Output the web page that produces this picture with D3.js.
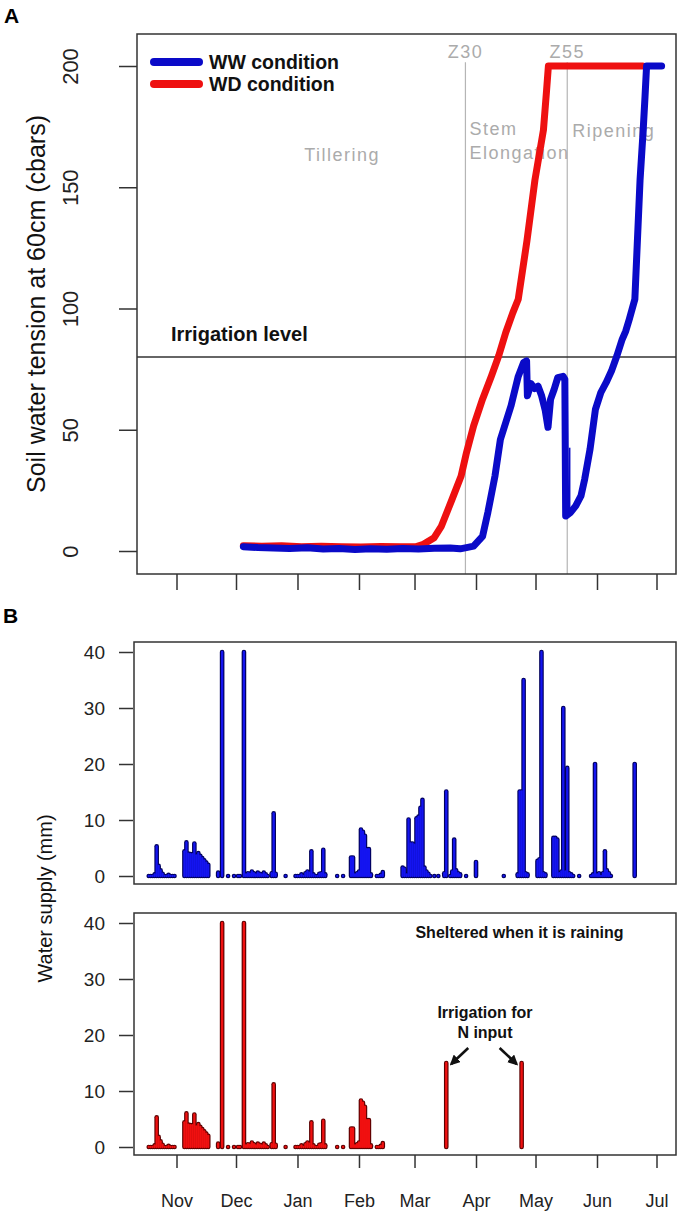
<!DOCTYPE html>
<html>
<head>
<meta charset="utf-8">
<script src="https://cdn.jsdelivr.net/npm/d3@7/dist/d3.min.js"></script>
<style>
  body { margin: 0; background: #fff; }
  text { font-family: "Liberation Sans", Arial, sans-serif; }
</style>
</head>
<body>
<svg id="chart" width="700" height="1220"></svg>
<script>
// ---------------- DATA ----------------
const monthLabels = ["Nov", "Dec", "Jan", "Feb", "Mar", "Apr", "May", "Jun", "Jul"];
const tensionTicks = [0, 50, 100, 150, 200];
const supplyTicks = [0, 10, 20, 30, 40];
const irrigationLevel = 80;

// Soil water tension at 60 cm (cbars); dates as MM-DD[Thh]
const wwTension = [
  ["12-04T17", 1.8], ["12-12", 1.4], ["12-20", 1.2], ["12-28", 1.0], ["01-06", 1.3],
  ["01-14", 0.8], ["01-22", 1.0], ["01-30", 0.6], ["02-07", 0.9], ["02-15", 0.7],
  ["02-23", 1.0], ["03-03", 0.8], ["03-11", 1.1], ["03-19", 1.2], ["03-24", 0.9],
  ["03-27T05", 1.4], ["03-30T19", 2.0], ["04-04T07", 6.0], ["04-07", 16], ["04-10T14", 31],
  ["04-13T07", 46], ["04-16", 53], ["04-18T17", 60], ["04-22T07", 72], ["04-25", 77.7],
  ["04-26T12", 78.4], ["04-26T22", 64], ["04-28T17", 69], ["04-30T12", 67], ["05-02T07", 68],
  ["05-04T02", 64], ["05-05T22", 58], ["05-07T07", 51], ["05-08T14", 62.5], ["05-10T10", 66.7],
  ["05-12T05", 71.5], ["05-14T22", 72], ["05-15T19", 70.8], ["05-16T05", 14.4], ["05-18T12", 15.8],
  ["05-21T07", 18.6], ["05-23T22", 22.7], ["05-25T19", 29.6], ["05-28T12", 42], ["05-31T05", 58.4],
  ["06-02T22", 65.3], ["06-05T14", 69.4], ["06-08T07", 74.2], ["06-11", 80.4], ["06-13T17", 87.3],
  ["06-15T12", 90.7], ["06-17T07", 95.6], ["06-20T02", 103.8], ["06-22T17", 153], ["06-24T07", 173.6],
  ["06-25T05", 187.3], ["06-26", 200], ["07-03T14", 200]
];
const wwGlitch = [["05-18T05", 15.5], ["05-18T05", 42.6]];
const wdTension = [
  ["12-04T17", 2.2], ["12-14", 2.0], ["12-24", 2.2], ["01-03", 1.8], ["01-13", 2.0],
  ["01-23", 1.8], ["02-02", 1.7], ["02-12", 1.9], ["02-22", 1.8], ["03-01T22", 1.8],
  ["03-05T12", 2.75], ["03-10T22", 5.5], ["03-14T14", 10.3], ["03-19T22", 21.3], ["03-24T12", 30.9],
  ["03-27T05", 40.6], ["03-30T19", 51.6], ["04-04T07", 62.6], ["04-08T19", 72.2], ["04-12T10", 80.4],
  ["04-16", 90.1], ["04-19T14", 98.3], ["04-22T07", 103.8], ["04-26T17", 128], ["04-30T17", 153],
  ["05-05", 173.6], ["05-06T14", 190], ["05-07T12", 200], ["06-24", 200]
];

// Water supply (mm): rain received by both treatments before shelter
const sharedSupply = [
  ["10-18", 0], ["10-19", 0], ["10-20", 0], ["10-21", 0.3], ["10-22", 5.3], ["10-23", 1.8],
  ["10-24", 1.0], ["10-25", 0.4], ["10-26", 0], ["10-27", 0], ["10-28", 0.2], ["10-29", 0],
  ["10-30", 0], ["10-31", 0],
  ["11-05", 4.4], ["11-06", 6.0], ["11-07", 4.0], ["11-08", 3.9], ["11-09", 3.9], ["11-10", 5.8],
  ["11-11", 3.7], ["11-12", 4.1], ["11-13", 3.6], ["11-14", 3.2], ["11-15", 2.8], ["11-16", 2.4],
  ["11-17", 2.0],
  ["11-22", 0.6], ["11-24", 40], ["11-27", 0], ["11-30", 0], ["12-02", 0], ["12-03", 0],
  ["12-05", 40], ["12-06", 0.3], ["12-07", 0.5], ["12-08", 0.4], ["12-09", 0.8], ["12-10", 0.5],
  ["12-11", 0.3], ["12-12", 0.6], ["12-13", 0.4], ["12-14", 0.3], ["12-15", 0.6], ["12-16", 0.3],
  ["12-17", 0], ["12-19", 0.5], ["12-20", 11.2], ["12-21", 0.4], ["12-26", 0],
  ["12-31", 0], ["01-01", 0], ["01-02", 0], ["01-03", 0.3], ["01-04", 0], ["01-05", 0.5],
  ["01-06", 0.8], ["01-07", 0.6], ["01-08", 4.4], ["01-09", 0.3], ["01-10", 0], ["01-11", 0],
  ["01-12", 0.4], ["01-13", 0.5], ["01-14", 4.7], ["01-15", 0.3],
  ["01-21", 0], ["01-24", 0],
  ["01-28", 3.3], ["01-29", 3.3], ["01-30", 0.3], ["01-31", 0.5], ["02-01", 0.8], ["02-02", 8.3],
  ["02-03", 7.9], ["02-04", 7.2], ["02-05", 4.8], ["02-06", 4.8], ["02-07", 0.3],
  ["02-10", 0], ["02-11", 0], ["02-12", 0.2], ["02-13", 0.7]
];
// Rain + irrigation on the WW plot after the WD plot was sheltered
const wwLateSupply = [
  ["02-23", 1.5], ["02-24", 1.3], ["02-25", 0.3], ["02-26", 10.1], ["02-27", 5.8], ["02-28", 5.8],
  ["03-01", 5.6], ["03-02", 10.3], ["03-03", 10.6], ["03-04", 12.2], ["03-05", 13.6], ["03-06", 1.5],
  ["03-07", 0.8], ["03-08", 0.4], ["03-09", 0], ["03-11", 0], ["03-13", 0],
  ["03-16", 0.5], ["03-17", 15.1], ["03-19", 0], ["03-20", 0.8], ["03-21", 6.5], ["03-22", 1.0],
  ["03-23", 0.5], ["03-24", 0.3], ["03-27", 0],
  ["04-01", 2.5], ["04-15", 0],
  ["04-22", 0.3], ["04-23", 15.1], ["04-24", 15.1], ["04-25", 35], ["04-26", 0.5], ["04-27", 0.3],
  ["05-02", 2.7], ["05-03", 3.0], ["05-04", 40], ["05-05", 0.5], ["05-06", 0.3],
  ["05-10", 6.8], ["05-11", 6.8], ["05-12", 6.5], ["05-13", 0.5], ["05-14", 0.8], ["05-15", 30],
  ["05-16", 0.8], ["05-17", 19.3], ["05-18", 0.5], ["05-19", 0.3], ["05-20", 0],
  ["05-23", 0],
  ["05-29", 0], ["05-30", 0.3], ["05-31", 20], ["06-01", 0.3], ["06-02", 0.5], ["06-03", 0],
  ["06-04", 0.5], ["06-05", 4.4], ["06-06", 1.0], ["06-07", 0.5], ["06-08", 0],
  ["06-20", 20]
];
// Irrigation for N input on the sheltered WD plot
const wdIrrigation = [["03-17", 15], ["04-24", 15]];

const phaseLines = [["Z30", "03-26T16"], ["Z55", "05-17"]];

// ---------------- HELPERS ----------------
function parseMD(s) {
  const [md, h] = s.split("T");
  const [m, d] = md.split("-").map(Number);
  return new Date(m >= 8 ? 2012 : 2013, m - 1, d, h ? +h : 0);
}
const toPts = arr => arr.map(([d, v]) => ({ date: parseMD(d), v }));

const svg = d3.select("#chart");
svg.append("rect").attr("width", 700).attr("height", 1220).attr("fill", "#fff");

const x = d3.scaleTime()
  .domain([new Date(2012, 10, 1), new Date(2013, 6, 1)])
  .range([176.5, 656.5]);
const monthTicks = d3.timeMonth.range(new Date(2012, 10, 1), new Date(2013, 6, 2));

// ---------------- PANEL A ----------------
const A = { left: 137, right: 676, top: 34, bottom: 574 };
const yA = d3.scaleLinear().domain([0, 200]).range([551, 66]);

svg.append("text").attr("x", 4).attr("y", 23).attr("font-size", 21)
  .attr("font-weight", "bold").text("A");

// phase lines
const greyTxt = "#ababab";
phaseLines.forEach(([lab, d]) => {
  const px = x(parseMD(d));
  svg.append("line").attr("x1", px).attr("x2", px)
    .attr("y1", yA(201.5)).attr("y2", A.bottom)
    .attr("stroke", "#b5b5b5").attr("stroke-width", 1.2);
  svg.append("text").attr("x", px).attr("y", yA(203.5))
    .attr("text-anchor", "middle").attr("font-family", "Open Sans")
    .attr("font-size", 18).attr("letter-spacing", 1.5).attr("fill", greyTxt).text(lab);
});
const stageTxt = (t, date, v, anchor) =>
  svg.append("text").attr("x", x(parseMD(date))).attr("y", yA(v))
    .attr("text-anchor", anchor).attr("font-family", "Open Sans")
    .attr("font-size", 18).attr("letter-spacing", 1.5).attr("fill", greyTxt).text(t);
stageTxt("Tillering", "01-23T12", 160.8, "middle");
const z30 = parseMD(phaseLines[0][1]), z55 = parseMD(phaseLines[1][1]);
svg.append("text").attr("x", x(z30) + 4).attr("y", yA(171.5)).attr("font-family", "Open Sans")
  .attr("font-size", 18).attr("letter-spacing", 1.5).attr("fill", greyTxt).text("Stem");
svg.append("text").attr("x", x(z30) + 4).attr("y", yA(161.6)).attr("font-family", "Open Sans")
  .attr("font-size", 18).attr("letter-spacing", 1.5).attr("fill", greyTxt).text("Elongation");
svg.append("text").attr("x", x(z55) + 5).attr("y", yA(170.7)).attr("font-family", "Open Sans")
  .attr("font-size", 18).attr("letter-spacing", 1.5).attr("fill", greyTxt).text("Ripening");

// irrigation level
svg.append("line").attr("x1", A.left).attr("x2", A.right)
  .attr("y1", yA(irrigationLevel)).attr("y2", yA(irrigationLevel))
  .attr("stroke", "#333").attr("stroke-width", 1.5);
svg.append("text").attr("x", A.left + 34).attr("y", yA(irrigationLevel) - 16)
  .attr("font-size", 20).attr("font-weight", "bold").attr("fill", "#111").text("Irrigation level");

// curves
const lineA = d3.line().x(d => x(d.date)).y(d => yA(d.v));
const BLUE = "#0a0ac8", RED = "#ee1010";
svg.append("path").datum(toPts(wdTension)).attr("d", lineA)
  .attr("fill", "none").attr("stroke", RED).attr("stroke-width", 7)
  .attr("stroke-linejoin", "round").attr("stroke-linecap", "round");
svg.append("path").datum(toPts(wwTension)).attr("d", lineA)
  .attr("fill", "none").attr("stroke", BLUE).attr("stroke-width", 7)
  .attr("stroke-linejoin", "round").attr("stroke-linecap", "round");
svg.append("path").datum(toPts(wwGlitch)).attr("d", lineA)
  .attr("fill", "none").attr("stroke", BLUE).attr("stroke-width", 1.6);

// legend
[["WW condition", BLUE, 62], ["WD condition", RED, 84]].forEach(([t, c, ly]) => {
  svg.append("line").attr("x1", 154).attr("x2", 199).attr("y1", ly).attr("y2", ly)
    .attr("stroke", c).attr("stroke-width", 8).attr("stroke-linecap", "round");
  svg.append("text").attr("x", 209).attr("y", ly + 7).attr("font-size", 19.5)
    .attr("font-weight", "bold").attr("fill", "#111").text(t);
});

// box & axes
svg.append("rect").attr("x", A.left).attr("y", A.top)
  .attr("width", A.right - A.left).attr("height", A.bottom - A.top)
  .attr("fill", "none").attr("stroke", "#333").attr("stroke-width", 1.5);

const axA = svg.append("g").attr("transform", `translate(${A.left},0)`)
  .call(d3.axisLeft(yA).tickValues(tensionTicks).tickSize(18).tickSizeOuter(0));
axA.select(".domain").remove();
axA.selectAll(".tick line").attr("stroke", "#333").attr("stroke-width", 1.5);
axA.selectAll(".tick text")
  .attr("x", null).attr("dy", null)
  .attr("transform", "translate(-59,0) rotate(-90)")
  .attr("text-anchor", "middle")
  .attr("font-size", 22).attr("fill", "#222")
  .attr("font-family", "Liberation Sans, Arial, sans-serif");

const axAx = svg.append("g").attr("transform", `translate(0,${A.bottom})`)
  .call(d3.axisBottom(x).tickValues(monthTicks).tickSize(16).tickFormat(""));
axAx.select(".domain").remove();
axAx.selectAll(".tick line").attr("stroke", "#333").attr("stroke-width", 1.5);

svg.append("text")
  .attr("transform", `translate(45,${(A.top + A.bottom) / 2}) rotate(-90)`)
  .attr("text-anchor", "middle").attr("font-size", 25).attr("fill", "#111")
  .text("Soil water tension at 60cm (cbars)");

// ---------------- PANEL B ----------------
svg.append("text").attr("x", 3).attr("y", 623).attr("font-size", 21)
  .attr("font-weight", "bold").text("B");

const B1 = { left: 134, right: 676, top: 642, bottom: 884 };
const B2 = { left: 134, right: 676, top: 913, bottom: 1155 };
const yB1 = d3.scaleLinear().domain([0, 40]).range([876, 652]);
const yB2 = d3.scaleLinear().domain([0, 40]).range([1147, 923]);

function bars(data, y, dark, core) {
  const g = svg.append("g");
  const pts = toPts(data);
  g.selectAll("line.o").data(pts).join("line").attr("class", "o")
    .attr("x1", d => x(d.date)).attr("x2", d => x(d.date))
    .attr("y1", y(0)).attr("y2", d => y(d.v))
    .attr("stroke", dark).attr("stroke-width", 4.6).attr("stroke-linecap", "round");
  g.selectAll("line.c").data(pts).join("line").attr("class", "c")
    .attr("x1", d => x(d.date)).attr("x2", d => x(d.date))
    .attr("y1", y(0)).attr("y2", d => y(d.v))
    .attr("stroke", core).attr("stroke-width", 2.3).attr("stroke-linecap", "round");
}
bars(sharedSupply.concat(wwLateSupply), yB1, "#00005c", "#1414f0");
bars(sharedSupply.concat(wdIrrigation), yB2, "#5c0000", "#f01010");

function panelFrame(P, y, bottomLabels) {
  svg.append("rect").attr("x", P.left).attr("y", P.top)
    .attr("width", P.right - P.left).attr("height", P.bottom - P.top)
    .attr("fill", "none").attr("stroke", "#333").attr("stroke-width", 1.5);
  const ay = svg.append("g").attr("transform", `translate(${P.left - 1},0)`)
    .call(d3.axisLeft(y).tickValues(supplyTicks).tickSize(14).tickPadding(14));
  ay.select(".domain").remove();
  ay.selectAll(".tick line").attr("stroke", "#333").attr("stroke-width", 1.5);
  ay.selectAll(".tick text").attr("font-size", 19).attr("fill", "#222")
    .attr("font-family", "Liberation Sans, Arial, sans-serif");
  if (bottomLabels) {
    const ax = svg.append("g").attr("transform", `translate(0,${P.bottom})`)
      .call(d3.axisBottom(x).tickValues(monthTicks).tickSize(13)
        .tickFormat((d, i) => monthLabels[i]));
    ax.select(".domain").remove();
    ax.selectAll(".tick line").attr("stroke", "#333").attr("stroke-width", 1.5);
    ax.selectAll(".tick text").attr("y", 52).attr("dy", null)
      .attr("font-size", 18).attr("fill", "#222")
      .attr("font-family", "Liberation Sans, Arial, sans-serif");
  }
}
panelFrame(B1, yB1, false);
panelFrame(B2, yB2, true);

svg.append("text")
  .attr("transform", `translate(52,${(B1.top + B2.bottom) / 2}) rotate(-90)`)
  .attr("text-anchor", "middle").attr("font-size", 20).attr("fill", "#111")
  .text("Water supply (mm)");

// annotations lower panel
svg.append("text").attr("x", x(parseMD("04-22T22"))).attr("y", yB2(37.3))
  .attr("text-anchor", "middle").attr("font-size", 16).attr("font-weight", "bold")
  .attr("fill", "#111").text("Sheltered when it is raining");
const irrMid = parseMD("04-05T12");
svg.append("text").attr("x", x(irrMid)).attr("y", yB2(23))
  .attr("text-anchor", "middle").attr("font-size", 16).attr("font-weight", "bold")
  .attr("fill", "#111").text("Irrigation for");
svg.append("text").attr("x", x(irrMid)).attr("y", yB2(19.5))
  .attr("text-anchor", "middle").attr("font-size", 16).attr("font-weight", "bold")
  .attr("fill", "#111").text("N input");

svg.append("defs").append("marker").attr("id", "ah")
  .attr("viewBox", "0 0 10 10").attr("refX", 8).attr("refY", 5)
  .attr("markerWidth", 4).attr("markerHeight", 4).attr("orient", "auto")
  .append("path").attr("d", "M0,0 L10,5 L0,10 z").attr("fill", "#111");
const [irr1, irr2] = toPts(wdIrrigation);
[[irr1, 1], [irr2, -1]].forEach(([p, s]) => {
  const tx = x(p.date) + 5 * s, ty = yB2(p.v) + 1;
  svg.append("line").attr("x1", tx + 17 * s).attr("y1", ty - 16)
    .attr("x2", tx).attr("y2", ty)
    .attr("stroke", "#111").attr("stroke-width", 2.6).attr("marker-end", "url(#ah)");
});
</script>
</body>
</html>
